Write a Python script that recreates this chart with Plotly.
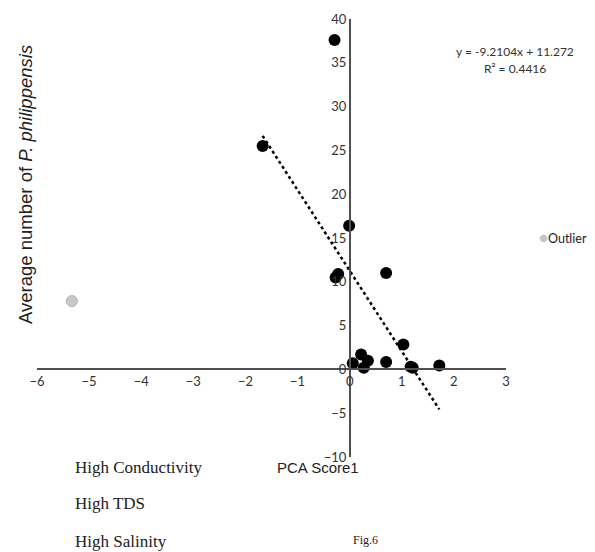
import plotly.graph_objects as go

# Data
pca_score = [-0.29, -1.67, -0.01, -0.27, -0.22, 0.70, 1.03, 0.06, 0.22, 0.35, 0.27, 0.70, 1.17, 1.21, 1.72]
avg_number = [37.6, 25.5, 16.4, 10.5, 10.9, 11.0, 2.85, 0.7, 1.7, 1.0, 0.2, 0.85, 0.3, 0.2, 0.45]
outlier_x = [-5.33]
outlier_y = [7.8]
trend_slope = -9.2104
trend_intercept = 11.272
trend_x = [-1.67, 1.72]
trend_y = [trend_slope * x + trend_intercept for x in trend_x]
x_ticks = [-6, -5, -4, -3, -2, -1, 0, 1, 2, 3]
y_ticks = [-10, -5, 0, 5, 10, 15, 20, 25, 30, 35, 40]

fig = go.Figure()
fig.add_trace(go.Scatter(x=trend_x, y=trend_y, mode="lines",
                         line=dict(color="black", width=2.5, dash="dot"),
                         showlegend=False, hoverinfo="skip"))
fig.add_trace(go.Scatter(x=pca_score, y=avg_number, mode="markers",
                         marker=dict(color="black", size=12),
                         showlegend=False))
fig.add_trace(go.Scatter(x=outlier_x, y=outlier_y, mode="markers", name="Outlier",
                         marker=dict(color="#c8c8c8", size=11,
                                     line=dict(color="#b0b0b0", width=1)),
                         showlegend=False))

tick_font = dict(family="Lato, Arial", size=13, color="#333")
fig.update_layout(
    width=587, height=544,
    margin=dict(l=29, r=89, t=11, b=95, autoexpand=False),
    plot_bgcolor="white", paper_bgcolor="white",
    xaxis=dict(range=[-6, 3], tickvals=x_ticks, showgrid=False, zeroline=False,
               showline=True, linecolor="#505050", linewidth=1.5,
               anchor="free", position=10 / 50, ticks="", tickfont=tick_font),
    yaxis=dict(range=[-10, 40], tickvals=y_ticks, showgrid=False, zeroline=False,
               showline=True, linecolor="#505050", linewidth=1.5,
               anchor="free", position=6 / 9, ticks="", tickfont=tick_font),
    showlegend=False,
)

serif = dict(family="Liberation Serif, Times New Roman", size=17, color="#222")
ann = [
    dict(text="Average number of <i>P. philippensis</i>", x=-0.026, y=0.623,
         textangle=-90, font=dict(family="Liberation Sans, Arial", size=18.5, color="#222")),
    dict(text="y = -9.2104x + 11.272", x=1.019, y=0.925,
         font=dict(family="Lato, Arial", size=12, color="#333")),
    dict(text="R² = 0.4416", x=1.019, y=0.888,
         font=dict(family="Lato, Arial", size=12, color="#333")),
    dict(text="PCA Score1", x=0.599, y=-0.025,
         font=dict(family="Liberation Sans, Arial", size=15, color="#222")),
    dict(text="High Conductivity", x=0.077, y=-0.023, xanchor="left", font=serif),
    dict(text="High TDS", x=0.077, y=-0.107, xanchor="left", font=serif),
    dict(text="High Salinity", x=0.077, y=-0.194, xanchor="left", font=serif),
    dict(text="Fig.6", x=0.701, y=-0.189,
         font=dict(family="Liberation Serif, Times New Roman", size=12, color="#222")),
    dict(text="<span style='color:#c4c4c4;font-size:15px'>●</span>Outlier",
         x=1.068, y=0.502, xanchor="left", borderpad=0,
         font=dict(family="Lato, Arial", size=12.5, color="#222")),
]
for a in ann:
    a.setdefault("xanchor", "center")
    fig.add_annotation(xref="paper", yref="paper", showarrow=False, yanchor="middle", **a)

fig.write_html("out.html")
